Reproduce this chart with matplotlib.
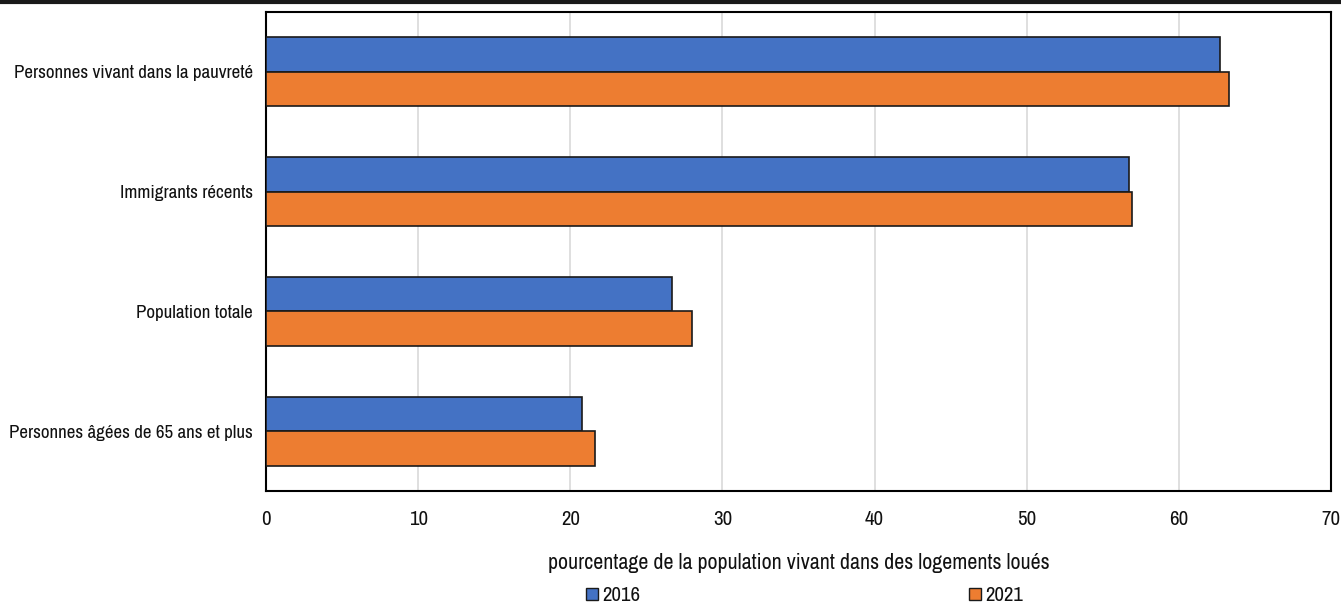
import matplotlib.pyplot as plt
import numpy as np
from matplotlib.lines import Line2D
from matplotlib.patches import Patch

plt.rcParams['font.family'] = ['Archivo Narrow', 'DejaVu Sans']

# share of each group living in rented dwellings
categories = ['Personnes vivant dans la pauvreté', 'Immigrants récents',
              'Population totale', 'Personnes âgées de 65 ans et plus']
v2016 = [62.7, 56.7, 26.7, 20.8]
v2021 = [63.3, 56.9, 28.0, 21.6]
years = ['2016', '2021']

blue = '#4472c4'
orange = '#ed7d31'

fig = plt.figure(figsize=(13.41, 6.04), dpi=100)
ax = fig.add_axes([266 / 1341, 1 - 491 / 604, (1331 - 266) / 1341, (491 - 12) / 604])

y = np.arange(len(categories))
h = 0.288
ax.barh(y - h / 2, v2016, height=h, color=blue, edgecolor='#1a1a1a', linewidth=1.2, zorder=3)
ax.barh(y + h / 2, v2021, height=h, color=orange, edgecolor='#1a1a1a', linewidth=1.2, zorder=3)

ax.set_ylim(len(categories) - 0.5, -0.5)
ax.set_xlim(0, 70)
ax.set_xticks(range(0, 71, 10))
ax.set_yticks(y)
ax.set_yticklabels(categories)
ax.tick_params(axis='both', length=0, labelcolor='#111111')
ax.tick_params(axis='x', pad=14, labelsize=15)
ax.tick_params(axis='y', pad=9.4, labelsize=13.7)
ax.grid(axis='x', color='#d9d9d9', linewidth=1.2, zorder=0)
for s in ax.spines.values():
    s.set_color('black')
    s.set_linewidth(1.5)

ax.set_xlabel('pourcentage de la population vivant dans des logements loués',
              fontsize=15.8, labelpad=17, color='#111111')

handles = [Patch(facecolor=blue, edgecolor='#1a1a1a', label=years[0]),
           Patch(facecolor=orange, edgecolor='#1a1a1a', label=years[1])]
fig.legend(handles=handles, loc='center', bbox_to_anchor=(0.600, 0.0135),
           ncol=2, frameon=False, fontsize=15, handlelength=0.55, handleheight=0.55,
           handletextpad=0.2, columnspacing=15.8, labelcolor='#111111')

# rule across the top
fig.add_artist(Line2D([0, 1], [0.9975, 0.9975], color='#1a1a1a', linewidth=3,
                      transform=fig.transFigure))

fig.savefig('out.png', dpi=100)
